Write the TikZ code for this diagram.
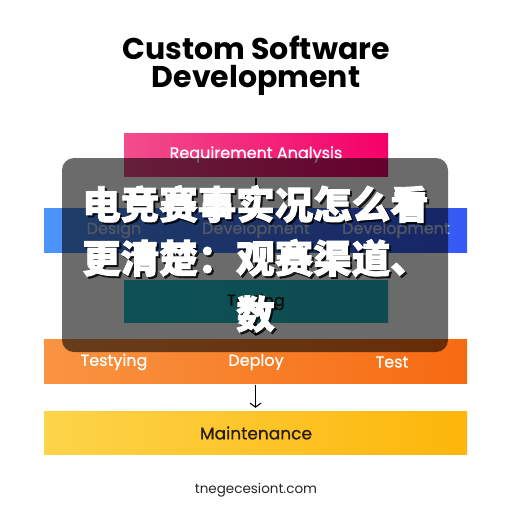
\documentclass[tikz,border=0pt]{standalone}
\usepackage{fontspec}
\setmainfont{Poppins}
\newfontfamily\cjk{Noto Sans CJK SC}[FakeBold=2.2]
\newfontfamily\titlefont{Poppins}
\newfontfamily\boxfont{Poppins}[FakeBold=0.8]
\usetikzlibrary{arrows.meta}
\definecolor{pinkL}{HTML}{F24D8C}
\definecolor{pinkR}{HTML}{F5006A}
\definecolor{blueL}{HTML}{4D94FA}
\definecolor{blueR}{HTML}{3658F5}
\definecolor{tealL}{HTML}{22C2CC}
\definecolor{tealR}{HTML}{1EB4BE}
\definecolor{orL}{HTML}{F99442}
\definecolor{orR}{HTML}{F76A12}
\definecolor{yeL}{HTML}{FDD44A}
\definecolor{yeR}{HTML}{FDB60A}
\definecolor{darktxt}{HTML}{2A1E10}
\definecolor{bluetxt}{HTML}{C4D0EC}
\tikzset{
  stage/.style={draw=none, inner sep=0pt, minimum height=43pt},
  boxtext/.style={font=\boxfont\fontsize{16}{18}\selectfont, inner sep=0pt},
  arr/.style={-{Straight Barb[length=4pt,width=11pt]}, line width=1.1pt, black},
  cjkline/.style={font=\cjk\bfseries\fontsize{38.5}{40}\selectfont, text=white, inner sep=0pt},
  cjkshadow/.style={font=\cjk\bfseries\fontsize{38.5}{40}\selectfont, text=black, opacity=0.75, inner sep=0pt},
  titlestyle/.style={font=\titlefont\bfseries\fontsize{30}{32}\selectfont, text=black, inner sep=0pt},
}
\begin{document}
\begin{tikzpicture}[x=1pt,y=-1pt]
\useasboundingbox (0,0) rectangle (512,512);
\fill[white] (0,0) rectangle (512,512);
% title
\node[titlestyle] (t1) at (256,48) {Custom Software};
\node[titlestyle] (t2) at (256,80.5) {Development};
% stages
\node[stage, left color=pinkL, right color=pinkR, minimum width=264pt] (req) at (256,154.5) {};
\node[boxtext, text=white] (reqt) at (256,154.5) {Requirement Analysis};
\node[stage, left color=blueL, right color=blueR, minimum width=423pt, minimum height=44pt] (des) at (255.5,230) {};
\node[boxtext, text=bluetxt] (d1) at (114,230) {Design};
\node[boxtext, text=bluetxt] (d2) at (256,230) {Development};
\node[boxtext, text=bluetxt] (d3) at (396,230) {Development};
\node[stage, left color=tealL, right color=tealR, minimum width=264pt, minimum height=42pt] (tst) at (256,301) {};
\node[boxtext, text=darktxt] (tstt) at (256,302) {Testing};
\node[stage, left color=orL, right color=orR, minimum width=423pt, minimum height=44pt] (dep) at (255.5,361) {};
\node[boxtext, text=white] (o1) at (114,362) {Testying};
\node[boxtext, text=white] (o2) at (256,362) {Deploy};
\node[boxtext, text=white] (o3) at (392,362) {Test};
\node[stage, left color=yeL, right color=yeR, minimum width=423pt, minimum height=43pt] (mnt) at (255.5,432.5) {};
\node[font=\boxfont\fontsize{17}{19}\selectfont, text=darktxt, inner sep=0pt] (mntt) at (256,433) {Maintenance};
% arrows
\draw[arr, shorten <=2pt, shorten >=3pt] (req.south) -- (req.south |- des.north);
\draw[arr, shorten <=2pt, shorten >=3pt] (des.south -| tst.north) -- (tst.north);
\draw[arr, shorten <=2pt, shorten >=3pt] (tst.south) -- (tst.south |- dep.north);
\draw[arr, shorten <=2pt, shorten >=3pt] (dep.south -| mnt.north) -- (mnt.north);
% footer
\node[font=\fontsize{13.5}{15}\selectfont, text=black!85, inner sep=0pt] (foot) at (256,490) {tnegecesiont.com};
% overlay
\fill[black, opacity=0.58, rounded corners=12pt] (62,158) rectangle (448,352);
% chinese text
\node[cjkshadow] (s1) at (257.5,206) {电竞赛事实况怎么看};
\node[cjkshadow] (s2) at (257.5,260) {更清楚：观赛渠道、};
\node[cjkshadow] (s3) at (257.5,316) {数};
\node[cjkline] (l1) at (255.5,204) {电竞赛事实况怎么看};
\node[cjkline] (l2) at (255.5,258) {更清楚：观赛渠道、};
\node[cjkline] (l3) at (255.5,314) {数};
\end{tikzpicture}
\end{document}
